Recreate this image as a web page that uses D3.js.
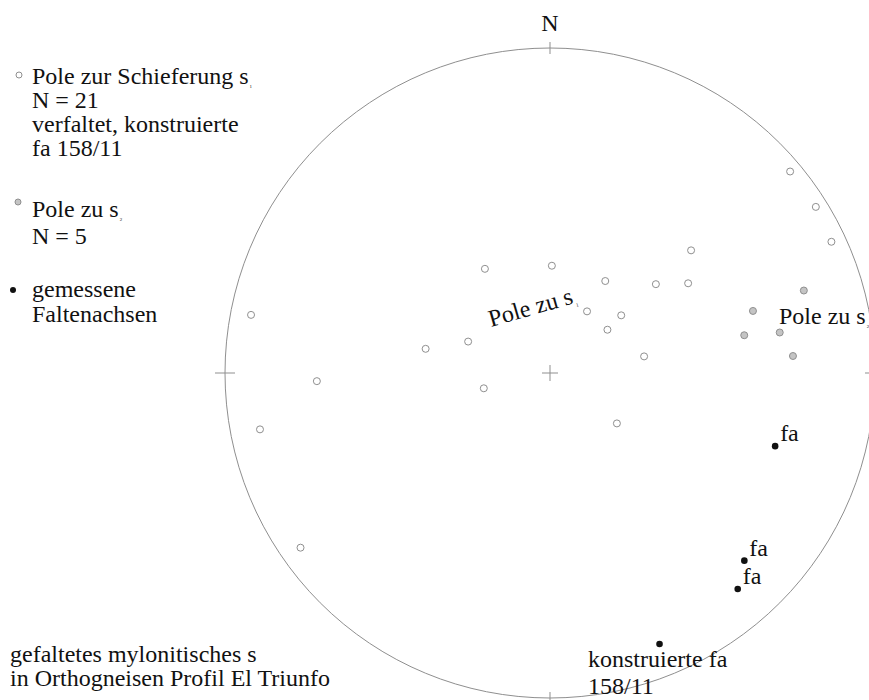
<!DOCTYPE html>
<html>
<head>
<meta charset="utf-8">
<script src="https://cdn.jsdelivr.net/npm/d3@7"></script>
<style>
  html, body { margin: 0; padding: 0; background: #fff; }
  svg { display: block; }
  text { font-family: "Liberation Serif", "Times New Roman", serif; fill: #111; }
</style>
</head>
<body>
<svg id="net" width="869" height="700"></svg>
<script>
// Poles to foliation s1 (trend / plunge, degrees)
const s1Trend  = [50, 58, 65, 49, 328, 1, 31, 50, 57, 31, 51, 53, 291, 281, 80, 268, 257, 127, 281, 259, 235];
const s1Plunge = [4, 4, 5, 42, 59, 63, 63, 55, 48, 72, 67, 72, 68, 58, 66, 29, 73, 69, 7, 10, 7];

// Poles to s2
const s2Trend  = [72, 73, 79, 80, 86];
const s2Plunge = [19, 35, 39, 29, 26];

// Measured fold axes
const faTrend  = [108, 134, 139];
const faPlunge = [28, 18, 13];

// Constructed fold axis
const faConstructed = { trend: 158, plunge: 11 };

const legendLines = [
  ["Pole zur Schieferung s", "1"],
  ["N = 21"],
  ["verfaltet, konstruierte"],
  ["fa 158/11"],
  ["Pole zu s", "2"],
  ["N = 5"],
  ["gemessene"],
  ["Faltenachsen"]
];
const captionLines = ["gefaltetes mylonitisches s", "in Orthogneisen Profil El Triunfo"];

const svg = d3.select("#net");
const cx = 550, cy = 373, R = 325;
const rad = Math.PI / 180;
const fs = 24;

// Net coordinates (-1..1) to pixels
const x = d3.scaleLinear().domain([-1, 1]).range([cx - R, cx + R]);
const y = d3.scaleLinear().domain([-1, 1]).range([cy + R, cy - R]);

// Lower-hemisphere equal-area (Schmidt) projection of a line
function proj(trend, plunge) {
  const r = Math.SQRT2 * Math.sin((90 - plunge) * rad / 2);
  return [x(r * Math.sin(trend * rad)), y(r * Math.cos(trend * rad))];
}

const grey = "#8f8f8f";

// Primitive circle
svg.append("circle")
  .attr("cx", x(0)).attr("cy", y(0)).attr("r", x(1) - x(0))
  .attr("fill", "none").attr("stroke", grey).attr("stroke-width", 1);

// Ticks at N, S, W, E and the centre cross
const tick = 10;
const gT = svg.append("g").attr("stroke", grey).attr("stroke-width", 1);
[[0, 1], [0, -1]].forEach(([a, b]) => {
  gT.append("line").attr("x1", x(a)).attr("x2", x(a))
    .attr("y1", y(b) - tick / 2 - 1).attr("y2", y(b) + tick / 2 + 1);
});
[[-1, 0], [1, 0]].forEach(([a, b]) => {
  gT.append("line").attr("y1", y(b)).attr("y2", y(b))
    .attr("x1", x(a) - tick).attr("x2", x(a) + tick);
});
gT.append("line").attr("x1", x(0) - 8).attr("x2", x(0) + 8).attr("y1", y(0)).attr("y2", y(0));
gT.append("line").attr("x1", x(0)).attr("x2", x(0)).attr("y1", y(0) - 8).attr("y2", y(0) + 8);

// North label
svg.append("text").attr("x", x(0)).attr("y", y(1) - 17)
  .attr("text-anchor", "middle").attr("font-size", fs).text("N");

// s1 poles: open circles
svg.append("g").selectAll("circle")
  .data(d3.range(s1Trend.length))
  .join("circle")
  .attr("cx", i => proj(s1Trend[i], s1Plunge[i])[0])
  .attr("cy", i => proj(s1Trend[i], s1Plunge[i])[1])
  .attr("r", 3.5)
  .attr("fill", "#fff").attr("stroke", grey).attr("stroke-width", 1);

// s2 poles: grey dots
svg.append("g").selectAll("circle")
  .data(d3.range(s2Trend.length))
  .join("circle")
  .attr("cx", i => proj(s2Trend[i], s2Plunge[i])[0])
  .attr("cy", i => proj(s2Trend[i], s2Plunge[i])[1])
  .attr("r", 3.5)
  .attr("fill", "#c4c4c4").attr("stroke", grey).attr("stroke-width", 1);

// Fold axes: black dots with labels
const gFa = svg.append("g");
d3.range(faTrend.length).forEach(i => {
  const [px, py] = proj(faTrend[i], faPlunge[i]);
  gFa.append("circle").attr("cx", px).attr("cy", py).attr("r", 3.3).attr("fill", "#111");
  gFa.append("text").attr("x", px + 5).attr("y", py - 5).attr("font-size", fs).text("fa");
});

const [kx, ky] = proj(faConstructed.trend, faConstructed.plunge);
gFa.append("circle").attr("cx", kx).attr("cy", ky).attr("r", 3.3).attr("fill", "#111");
svg.append("text").attr("x", 588).attr("y", 667).attr("font-size", fs).text("konstruierte fa");
svg.append("text").attr("x", 588).attr("y", 694).attr("font-size", fs)
  .text(`${faConstructed.trend}/${faConstructed.plunge}`);

// Field labels
function subLabel(sel, main, sub) {
  sel.append("tspan").text(main);
  sel.append("tspan").attr("font-size", 5).attr("dy", 4).attr("dx", 1).text(sub);
}
const t1 = svg.append("text").attr("font-size", fs)
  .attr("transform", "translate(491,327) rotate(-16)");
subLabel(t1, "Pole zu s", "1");
const t2 = svg.append("text").attr("font-size", fs).attr("x", 779).attr("y", 324);
subLabel(t2, "Pole zu s", "2");

// Legend
const legendY = [84, 108, 132, 156, 217, 244, 297, 322];
legendLines.forEach((ln, i) => {
  const t = svg.append("text").attr("x", 32).attr("y", legendY[i]).attr("font-size", fs);
  if (ln.length > 1) subLabel(t, ln[0], ln[1]); else t.text(ln[0]);
});
svg.append("circle").attr("cx", 19).attr("cy", 75).attr("r", 3)
  .attr("fill", "#fff").attr("stroke", grey);
svg.append("circle").attr("cx", 18).attr("cy", 202).attr("r", 3)
  .attr("fill", "#c4c4c4").attr("stroke", grey);
svg.append("circle").attr("cx", 13).attr("cy", 290).attr("r", 3).attr("fill", "#111");

// Caption
captionLines.forEach((c, i) => {
  svg.append("text").attr("x", 10).attr("y", 662 + i * 24).attr("font-size", fs).text(c);
});
</script>
</body>
</html>
